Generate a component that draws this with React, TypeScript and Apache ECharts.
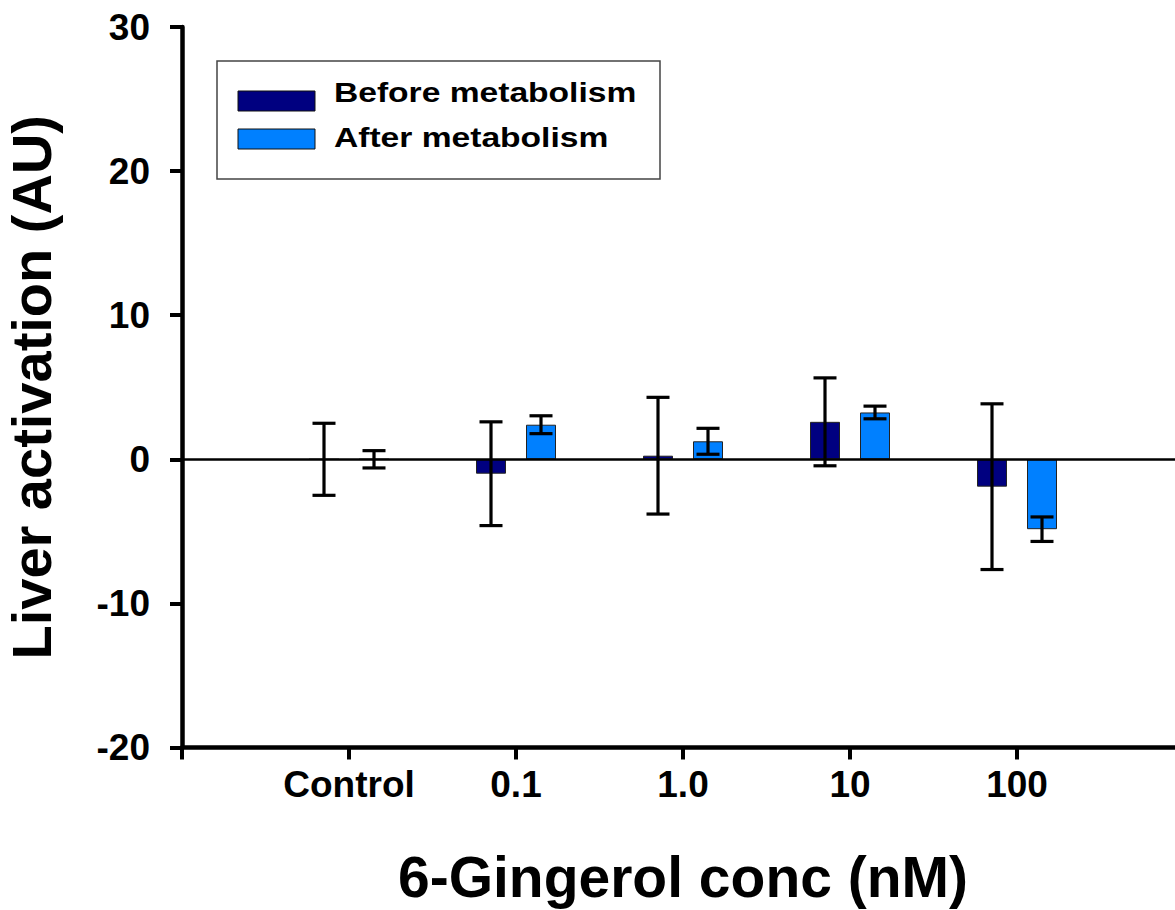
import React, { useEffect, useRef } from "react";
import * as echarts from "echarts";

const categories = ["Control", "0.1", "1.0", "10", "100"];
const beforeMean = [0, -1.0, 0.25, 2.6, -1.9];
const beforeErr = [2.5, 3.6, 4.05, 3.05, 5.75];
const afterMean = [0, 2.4, 1.25, 3.25, -4.85];
const afterErr = [0.6, 0.62, 0.9, 0.44, 0.85];
const yTicks = [-20, -10, 0, 10, 20, 30];
const seriesNames = ["Before metabolism", "After metabolism"];

const FONT = '"Liberation Sans", Arial, sans-serif';
const BEFORE_COLOR = "#000080";
const AFTER_COLOR = "#0080ff";
const BAR_W = 30;
const BAR_GAP = 20;
const OFFSET = (BAR_W + BAR_GAP) / 2;
const CAP = 11.5;

function errorSeries(means: number[], errs: number[], dx: number) {
  return {
    type: "custom",
    z: 10,
    silent: true,
    clip: false,
    data: means.map((m, i) => [i + 1, m, errs[i]]),
    encode: { x: 0, y: 1 },
    renderItem: (params: any, api: any) => {
      const x = api.value(0);
      const m = api.value(1);
      const e = api.value(2);
      const hi = api.coord([x, m + e]);
      const lo = api.coord([x, m - e]);
      const cx = hi[0] + dx;
      const st = { stroke: "#000", lineWidth: 3.2 };
      return {
        type: "group",
        children: [
          { type: "line", shape: { x1: cx, y1: hi[1], x2: cx, y2: lo[1] }, style: st },
          { type: "line", shape: { x1: cx - CAP, y1: hi[1], x2: cx + CAP, y2: hi[1] }, style: st },
          { type: "line", shape: { x1: cx - CAP, y1: lo[1], x2: cx + CAP, y2: lo[1] }, style: st },
        ],
      };
    },
  };
}

export default function App() {
  const ref = useRef<HTMLDivElement>(null);
  useEffect(() => {
    if (!ref.current) return;
    const chart = echarts.init(ref.current, null, { renderer: "svg" });
    const axisData = ["", ...categories, ""];
    const pad = (arr: number[]) => ["-", ...arr, "-"];
    const legendItems = [
      { name: seriesNames[0], color: BEFORE_COLOR, swatchY: 91, textY: 92 },
      { name: seriesNames[1], color: AFTER_COLOR, swatchY: 129, textY: 137.5 },
    ];
    chart.setOption({
      animation: false,
      backgroundColor: "#fff",
      grid: {
        left: 182,
        right: -9,
        top: 27,
        bottom: 162.5,
        containLabel: false,
        outerBoundsMode: "none",
      },
      xAxis: {
        type: "category",
        data: axisData,
        boundaryGap: false,
        name: "6-Gingerol conc (nM)",
        nameLocation: "middle",
        nameGap: 101,
        nameTextStyle: { fontFamily: FONT, fontWeight: "bold", fontSize: 57, color: "#000" },
        axisLine: { onZero: false, lineStyle: { color: "#000", width: 4.5 } },
        axisTick: { show: true, inside: false, length: 12, lineStyle: { color: "#000", width: 4 }, interval: 0 },
        axisLabel: { interval: 0, margin: 18, fontFamily: FONT, fontWeight: "bold", fontSize: 37, color: "#000" },
        splitLine: { show: false },
      },
      yAxis: {
        type: "value",
        min: yTicks[0],
        max: yTicks[yTicks.length - 1],
        interval: yTicks[1] - yTicks[0],
        name: "Liver activation (AU)",
        nameLocation: "middle",
        nameRotate: 90,
        nameGap: 123,
        nameTextStyle: { fontFamily: FONT, fontWeight: "bold", fontSize: 56, color: "#000" },
        axisLine: { show: true, lineStyle: { color: "#000", width: 4.5 } },
        axisTick: { show: true, inside: false, length: 12, lineStyle: { color: "#000", width: 4 } },
        axisLabel: { margin: 32, fontFamily: FONT, fontWeight: "bold", fontSize: 37, color: "#000" },
        splitLine: { show: false },
      },
      series: [
        {
          name: seriesNames[0],
          type: "bar",
          data: pad(beforeMean),
          barWidth: BAR_W,
          barGap: `${(BAR_GAP / BAR_W) * 100}%`,
          itemStyle: { color: BEFORE_COLOR, borderColor: "#222", borderWidth: 1 },
          markLine: {
            silent: true,
            symbol: ["none", "none"],
            label: { show: false },
            lineStyle: { color: "#000", width: 2.5, type: "solid" },
            data: [{ yAxis: 0 }],
            z: 5,
          },
        },
        {
          name: seriesNames[1],
          type: "bar",
          data: pad(afterMean),
          barWidth: BAR_W,
          itemStyle: { color: AFTER_COLOR, borderColor: "#222", borderWidth: 1 },
        },
        errorSeries(beforeMean, beforeErr, -OFFSET),
        errorSeries(afterMean, afterErr, OFFSET),
      ],
      graphic: [
        {
          type: "group",
          children: [
            {
              type: "rect",
              shape: { x: 217, y: 61, width: 443, height: 118 },
              style: { fill: "#fff", stroke: "#444", lineWidth: 1.5 },
            },
            ...legendItems.flatMap((it) => [
              {
                type: "rect",
                shape: { x: 238, y: it.swatchY, width: 77, height: 20 },
                style: { fill: it.color, stroke: "#111", lineWidth: 1 },
              },
              {
                type: "text",
                x: 334,
                y: it.textY,
                scaleX: 1.2,
                style: {
                  text: it.name,
                  fontFamily: FONT,
                  fontWeight: "bold",
                  fontSize: 28,
                  fill: "#000",
                  textAlign: "left",
                  verticalAlign: "middle",
                },
              },
            ]),
          ],
        },
      ],
    });
    return () => chart.dispose();
  }, []);
  return (
    <div
      ref={ref}
      style={{ position: "absolute", left: 0, top: 0, width: 1175, height: 910 }}
    />
  );
}
